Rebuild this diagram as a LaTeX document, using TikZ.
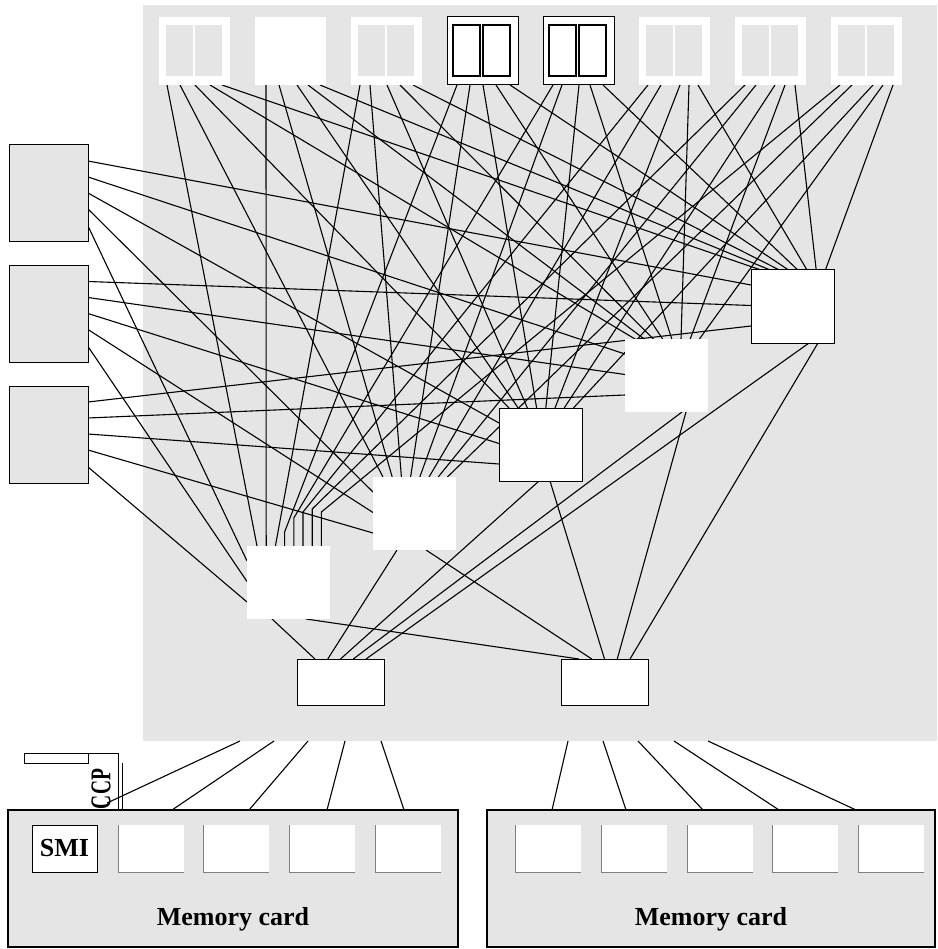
\documentclass[tikz,border=0pt]{standalone}
\usepackage{fontspec}
\usepackage{graphicx}
\setmainfont{Liberation Serif}
\usetikzlibrary{calc}
\definecolor{bgg}{HTML}{E5E5E5}
\pgfdeclarelayer{bg}
\pgfdeclarelayer{wires}
\pgfsetlayers{bg,wires,main}
\begin{document}
\begin{tikzpicture}[x=1pt,y=-1pt,
  wire/.style={line width=1.1pt,black},
  box/.style={rectangle,inner sep=0pt,outer sep=0pt,anchor=north west},
  board/.style={box,fill=white,minimum width=71pt,minimum height=68pt},
  swbox/.style={box,fill=white,minimum width=83pt,minimum height=73pt},
  lbox/.style={box,fill=bgg,draw=black,line width=1pt,minimum width=79pt,minimum height=97pt},
  bbox/.style={box,fill=white,draw=black,line width=1pt,minimum width=87pt,minimum height=46pt},
  card/.style={box,fill=bgg,draw=black,line width=1.6pt,minimum height=137pt},
  slot/.style={box,fill=white,minimum width=66pt,minimum height=47pt},
  lbl/.style={font=\fontsize{26}{30}\selectfont\bfseries}]
\useasboundingbox (0,0) rectangle (937,949);

\begin{pgfonlayer}{bg}
  \node[box,fill=bgg,minimum width=794pt,minimum height=736pt] (region) at (143,5) {};
\end{pgfonlayer}

% top boards
\foreach \i in {0,1,2,5,6,7} \node[board] (t\i) at ({159+96*\i},17) {};
\foreach \i in {3,4} \node[board,draw=black,line width=1pt] (t\i) at ({159+96*\i},17) {};
\foreach \i in {0,2,5,6,7} {
  \fill[bgg] ($(t\i.north west)+(7,8)$) rectangle ++(27,51);
  \fill[bgg] ($(t\i.north west)+(36,8)$) rectangle ++(27,51);
}
\foreach \i in {3,4} {
  \draw[line width=1.1pt,fill=white] ($(t\i.north west)+(6,8)$) rectangle ++(27,51);
  \draw[line width=1.1pt,fill=white] ($(t\i.north west)+(36,8)$) rectangle ++(27,51);
}

% staircase switches
\foreach \k in {0,1,3} \node[swbox] (s\k) at ({247+126*\k},{546-69*\k}) {};
\foreach \k in {2,4} \node[swbox,draw=black,line width=1pt] (s\k) at ({247+126*\k},{546-69*\k}) {};

% bottom switches
\node[bbox] (bl) at (297,659) {};
\node[bbox] (br) at (561,659) {};

% left boxes
\foreach \m in {0,1,2} \node[lbox] (l\m) at (9,{145+120.5*\m}) {};

% memory cards
\node[card,minimum width=450pt] (mc1) at (8,810) {};
\node[card,minimum width=448pt] (mc2) at (487,810) {};
\node[box,fill=white,draw=black,line width=0.8pt,minimum width=65pt,minimum height=47pt,lbl] (smi) at ($(mc1.north west)+(24,15)$) {SMI};
\foreach \o in {110,195,281,367} {
  \node[slot] (a\o) at ($(mc1.north west)+(\o,15)$) {};
  \draw[gray,line width=0.8pt] (a\o.north west) -- (a\o.south west) -- (a\o.south east);
}
\foreach \o in {28,114,200,285,371} {
  \node[slot] (b\o) at ($(mc2.north west)+(\o,15)$) {};
  \draw[gray,line width=0.8pt] (b\o.north west) -- (b\o.south west) -- (b\o.south east);
}
\node[lbl,anchor=base] (mct1) at ($(mc1.south)+(0,-22)$) {Memory card};
\node[lbl,anchor=base] (mct2) at ($(mc2.south)+(0,-22)$) {Memory card};

% CCP
\node[lbl,rotate=90] (ccp) at (101,789) {\scalebox{0.75}[1.1]{CCP}};
\coordinate (ccpe) at (107,803);
\node[box,draw=black,line width=0.9pt,minimum width=64pt,minimum height=10pt] (cr) at (24,753) {};
\draw[line width=0.7pt] (cr.north east) -| ($(mc1.north west)+(110,0)$);
\draw[line width=0.7pt] ($(mc1.north west)+(114,0)$) -- ++(0,-47);

\begin{pgfonlayer}{wires}
% top boards to switches
\foreach \i/\offs/\by in {0/{8,21,36,51,63}/0, 1/{11,24,42,53,65}/0, 2/{9,19,36,49,62}/0,
    3/{10,23,36,49,63}/532, 4/{10,19,36,47,60}/518, 5/{9,22,41,50,59}/512,
    6/{10,21,40,50,60}/509, 7/{9,21,42,52,62}/512} {
  \pgfmathsetmacro\ex{10+9.2*\i}
  \foreach \o [count=\j from 0] in \offs {
    \ifnum\j=0
      \ifnum\i>2
        \draw[wire] ($(t\i.south west)+(\o,0)$) -- ($(s0.north west)+({\ex},{\by-546})$) -- ($(s0.north west)+({\ex},0)$);
      \else
        \draw[wire] ($(t\i.south west)+(\o,0)$) -- ($(s0.north west)+({\ex},0)$);
      \fi
    \else
      \draw[wire] ($(t\i.south west)+(\o,0)$) -- ($(s\j.north west)+({\ex},0)$);
    \fi
  }
}
% left boxes to switches
\foreach \m in {0,1,2} {
  \pgfmathsetmacro\e{15+20.5*\m}
  \foreach \o [count=\j from 0] in {16,32,48,64,81} {
    \pgfmathtruncatemacro\k{4-\j}
    \draw[wire] ($(l\m.north east)+(0,\o)$) -- ($(s\k.north west)+(0,{\e})$);
  }
}
% switches to bottom switches
\foreach \k/\a/\b in {0/25/59,1/24/53,2/40/51,3/57/61,4/58/67} {
  \pgfmathsetmacro\t{18+12.75*\k}
  \draw[wire] ($(s\k.south west)+(\a,0)$) -- ($(bl.north west)+({\t},0)$);
  \draw[wire] ($(s\k.south west)+(\b,0)$) -- ($(br.north west)+({\t},0)$);
}
% region to memory cards
\draw[wire] ($(region.south west)+(97,0)$) -- (ccpe);
\foreach \g/\c in {131/164,165/241,202/319,238/396}
  \draw[wire] ($(region.south west)+(\g,0)$) -- ($(mc1.north west)+(\c,0)$);
\foreach \g/\c in {425/65,460/139,495/216,531/292,565/369}
  \draw[wire] ($(region.south west)+(\g,0)$) -- ($(mc2.north west)+(\c,0)$);
\end{pgfonlayer}
\end{tikzpicture}
\end{document}
